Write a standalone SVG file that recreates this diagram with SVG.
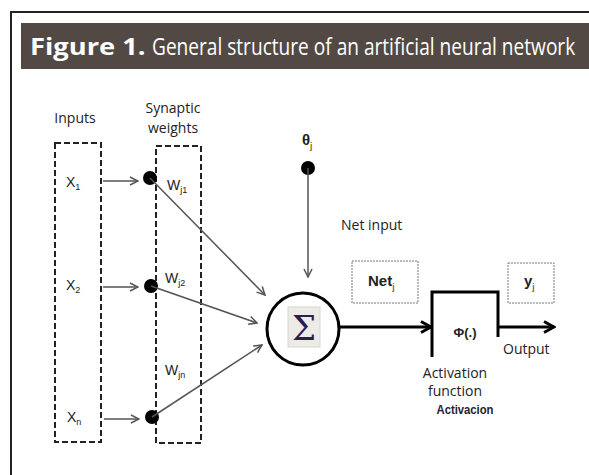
<svg xmlns="http://www.w3.org/2000/svg" width="589" height="475" viewBox="0 0 589 475">
<defs>
<style>
.lbl{font-family:"Open Sans","Liberation Sans",sans-serif;font-size:14px;fill:#222}
.var{font-family:"Liberation Sans",sans-serif;font-size:14px;fill:#222}
.sub{font-size:9px}
.dash{fill:none;stroke:#222;stroke-width:2;stroke-dasharray:6 3}
.thin{fill:none;stroke:#555;stroke-width:1.5}
.thick{fill:none;stroke:#000;stroke-width:3}
.dot{fill:#000}
.hd{font-family:"Open Sans","Liberation Sans",sans-serif;font-size:24px;fill:#fff}
</style>
<marker id="ah" viewBox="0 0 10 10" refX="9" refY="5" markerWidth="10" markerHeight="10" markerUnits="userSpaceOnUse" orient="auto">
<path d="M1,1 L9,5 L1,9" fill="none" stroke="#555" stroke-width="1.5"/>
</marker>
<marker id="ahb" viewBox="0 0 14 14" refX="12" refY="7" markerWidth="14" markerHeight="14" markerUnits="userSpaceOnUse" orient="auto">
<path d="M2,1.5 L12,7 L2,12.5" fill="none" stroke="#000" stroke-width="3"/>
</marker>
</defs>
<rect width="589" height="475" fill="#fff"/>
<path d="M11,475 V12 H589" fill="none" stroke="#222" stroke-width="2"/>
<g id="header">
<rect x="21" y="23" width="568" height="46" fill="#524944"/>
<text class="hd" transform="translate(30,55) scale(0.85,1)" x="0" y="0" font-weight="bold" textLength="136" lengthAdjust="spacingAndGlyphs">Figure 1.</text>
<text class="hd" transform="translate(152,55) scale(0.8,1)" x="0" y="0" textLength="529" lengthAdjust="spacingAndGlyphs">General structure of an artificial neural network</text>
</g>
<g id="inputs">
<text class="lbl" x="75" y="123" text-anchor="middle">Inputs</text>
<rect class="dash" x="55" y="143" width="46" height="299"/>
<text class="var" x="66" y="187">X<tspan class="sub" dy="3">1</tspan></text>
<text class="var" x="66" y="290">X<tspan class="sub" dy="3">2</tspan></text>
<text class="var" x="67" y="422">X<tspan class="sub" dy="3">n</tspan></text>
</g>
<g id="weights">
<text class="lbl" x="173" y="113" text-anchor="middle">Synaptic</text>
<text class="lbl" x="173" y="133" text-anchor="middle">weights</text>
<rect class="dash" x="156" y="146" width="45" height="297"/>
<circle class="dot" cx="150" cy="178" r="7"/>
<circle class="dot" cx="151" cy="286" r="7"/>
<circle class="dot" cx="152" cy="417" r="7"/>
<text class="var" x="167" y="190">W<tspan class="sub" dy="3">j1</tspan></text>
<text class="var" x="165" y="283">W<tspan class="sub" dy="3">j2</tspan></text>
<text class="var" x="165" y="375">W<tspan class="sub" dy="3">jn</tspan></text>
</g>
<g id="bias">
<text x="302" y="145" font-family="Liberation Sans, sans-serif" font-size="15" font-weight="bold" fill="#222">θ<tspan class="sub" dy="4" fill="#b05a20">j</tspan></text>
<circle class="dot" cx="308" cy="168" r="7"/>
</g>
<g id="sum">
<circle cx="303" cy="329" r="36" fill="#fff" stroke="#000" stroke-width="3"/>
<rect x="288" y="307" width="32" height="40" fill="#ecebe6" stroke="#d8d6d0" stroke-width="1"/>
<text x="304" y="340" text-anchor="middle" font-family="DejaVu Serif, serif" font-size="34" fill="#2a2050">Σ</text>
</g>
<g id="netinput">
<text class="lbl" x="341" y="230">Net input</text>
<rect x="352" y="261" width="66" height="42" fill="none" stroke="#777" stroke-width="1" stroke-dasharray="2 1"/>
<text x="368" y="286" font-family="Liberation Sans, sans-serif" font-size="15" font-weight="bold" fill="#222">Net<tspan class="sub" dy="4" fill="#b05a20">j</tspan></text>
</g>
<g id="activation">
<path class="thick" d="M432,357 V292 H498 V337"/>
<text x="465" y="337" text-anchor="middle" font-family="Liberation Sans, sans-serif" font-size="13" font-weight="bold" fill="#222">Φ(.)</text>
<text class="lbl" x="455" y="378" text-anchor="middle">Activation</text>
<text class="lbl" x="455" y="396" text-anchor="middle">function</text>
<text x="465" y="414" text-anchor="middle" font-family="Liberation Sans, sans-serif" font-size="12" font-weight="bold" fill="#223" textLength="57" lengthAdjust="spacingAndGlyphs">Activacion</text>
</g>
<g id="output">
<rect x="508" y="263" width="46" height="40" fill="none" stroke="#777" stroke-width="1" stroke-dasharray="2 1"/>
<text x="524" y="286" font-family="Liberation Sans, sans-serif" font-size="15" font-weight="bold" fill="#222">y<tspan class="sub" dy="4" fill="#b05a20">j</tspan></text>
<text class="lbl" x="503" y="354">Output</text>
</g>
<g id="connectors">
<line class="thin" x1="103" y1="181" x2="138" y2="181" marker-end="url(#ah)"/>
<line class="thin" x1="103" y1="287" x2="138" y2="287" marker-end="url(#ah)"/>
<line class="thin" x1="104" y1="419" x2="139" y2="419" marker-end="url(#ah)"/>
<line class="thin" x1="150" y1="178" x2="265" y2="295" marker-end="url(#ah)"/>
<line class="thin" x1="151" y1="286" x2="257" y2="323" marker-end="url(#ah)"/>
<line class="thin" x1="152" y1="417" x2="262" y2="345" marker-end="url(#ah)"/>
<line class="thin" x1="308" y1="168" x2="308" y2="277" marker-end="url(#ah)"/>
<line class="thick" x1="339" y1="327" x2="431" y2="327" marker-end="url(#ahb)"/>
<line class="thick" x1="498" y1="327" x2="554" y2="327" marker-end="url(#ahb)"/>
</g>
</svg>
